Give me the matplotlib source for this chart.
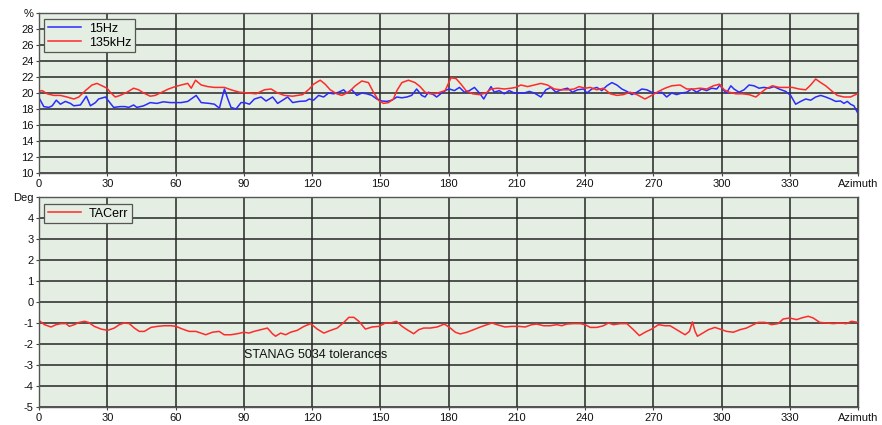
import matplotlib
matplotlib.use("Agg")
import matplotlib.pyplot as plt

plt.rcParams['font.family'] = ['Liberation Sans', 'DejaVu Sans']

# ---- Top panel data: amplitude (%) vs azimuth ----
az_15hz = [0.3, 2.1, 4.3, 5.8, 7.6, 9.4, 11.6, 13.8, 15.3, 18.2,
           20.8, 22.6, 24.8, 26.2, 29.2, 30.6, 32.8, 35.7, 37.9, 39.4,
           41.6, 43.0, 46.0, 48.9, 51.8, 54.7, 57.7,
           62.5, 65.4, 69.1, 71.3, 74.9, 77.1, 79.3, 81.5, 83.0, 84.4,
           86.6, 88.8, 90.3, 92.5, 94.7, 97.6, 99.8, 102.7, 104.9, 107.1,
           109.3, 111.5, 114.4, 117.3, 118.8,
           120.7, 122.9, 125.1, 127.3, 129.5, 131.7, 133.9, 135.3, 137.5, 139.7,
           141.9, 144.1, 146.3, 148.5, 150.7, 152.9, 155.1, 157.3, 159.5, 161.7,
           163.8, 166.0, 168.2, 169.7, 171.2, 173.3, 174.8, 177.0, 179.2,
           180.4, 182.6, 184.8, 187.0, 189.2, 191.4, 193.6, 195.5, 197.2, 198.7,
           200.1, 202.3, 204.5, 206.7, 208.9, 211.1, 213.3, 215.5, 217.7, 220.6,
           222.8, 225.0, 227.2, 229.4, 232.3, 234.5, 236.7,
           239.4, 240.8, 243.0, 245.2, 247.4, 249.6, 251.8, 254.0, 256.2, 258.4,
           260.6, 262.8, 265.0, 267.2, 269.3, 271.5, 273.7, 275.9, 278.1, 280.3,
           282.5, 284.7, 286.9, 289.1, 291.3, 293.5, 295.7, 297.9,
           299.3, 300.7, 302.2, 304.1, 305.5, 307.7, 309.9, 312.1, 314.3, 316.5,
           318.7, 320.9, 323.1, 325.3, 328.2, 330.4, 332.6, 334.8, 337.0, 339.2,
           341.4, 343.6, 345.8, 348.0, 350.2, 352.3, 353.8, 355.3, 356.7, 358.2,
           359.7]
val_15hz = [19.25, 18.3, 18.2, 18.4, 19.1, 18.6, 18.95, 18.7, 18.4, 18.5,
            19.6, 18.4, 18.8, 19.25, 19.5, 19.0, 18.2, 18.3, 18.3, 18.2,
            18.5, 18.2, 18.4, 18.8, 18.7, 18.9, 18.8,
            18.8, 18.95, 19.7, 18.8, 18.7, 18.6, 18.1, 20.5, 19.25, 18.2,
            18.0, 18.8, 18.8, 18.6, 19.25, 19.5, 19.0, 19.5, 18.7, 19.1,
            19.5, 18.8, 18.95, 19.0, 19.25,
            19.1, 19.7, 19.5, 20.0, 19.9, 20.1, 20.4, 20.0, 20.4, 19.7,
            20.0, 19.9, 19.7, 19.25, 19.0, 18.95, 19.1, 19.5, 19.4, 19.5,
            19.7, 20.5, 19.7, 19.5, 20.1, 19.8, 19.5, 20.0, 20.4,
            20.5, 20.3, 20.7, 20.1, 20.3, 20.7, 20.0, 19.25, 20.1, 20.8,
            20.1, 20.3, 19.9, 20.3, 20.0, 20.0, 20.0, 20.2, 20.0, 19.5,
            20.4, 20.7, 20.1, 20.4, 20.6, 20.1, 20.4,
            20.5, 20.0, 20.5, 20.7, 20.3, 20.9, 21.3, 21.0, 20.5, 20.2,
            19.8, 20.1, 20.5, 20.4, 20.1, 20.0, 20.1, 19.5, 20.0, 19.8,
            20.0, 20.1, 20.5, 20.1, 20.5, 20.3, 20.6, 20.5,
            21.0, 20.4, 20.0, 20.9, 20.5, 20.1, 20.4, 21.0, 20.9, 20.6,
            20.7, 20.6, 20.8, 20.5, 20.2, 19.7, 18.6, 18.95, 19.25, 19.1,
            19.5, 19.7, 19.5, 19.25, 18.95, 19.0, 18.7, 18.95, 18.6, 18.4,
            17.6]

az_135khz = [0.0, 1.4, 3.6, 6.5, 9.4, 12.3, 15.3, 17.5, 20.4, 23.3,
             25.5, 27.7, 29.9, 31.3, 33.5, 35.7, 38.7, 41.6, 43.8, 46.0,
             48.9, 51.1, 54.0, 56.9, 59.9,
             62.5, 65.4, 66.9, 68.8, 71.3, 74.2, 77.1, 81.5, 84.4, 88.1,
             91.8, 95.4, 99.1, 102.0, 104.9, 107.8, 111.5, 115.9, 118.8,
             120.7, 123.6, 125.8, 128.0, 130.9, 133.1, 136.1, 139.0, 141.9, 144.8,
             147.0, 149.2, 151.4, 153.6, 155.8, 157.3, 159.5, 162.4, 165.3, 167.5,
             169.7, 171.9, 174.1, 176.3, 178.5,
             181.1, 183.3, 185.5, 187.7, 190.6, 193.6, 196.5, 198.7, 201.6, 204.5,
             207.5, 209.6, 211.8, 214.8, 217.7, 220.6, 223.5, 226.5, 229.4, 232.3,
             235.2, 237.4,
             240.1, 242.3, 245.2, 248.1, 251.1, 254.0, 256.9, 259.8, 262.8, 266.4,
             269.3, 272.3, 275.2, 278.1, 281.8, 284.7, 287.6, 290.6, 293.5, 296.4,
             299.1, 301.2, 303.4, 306.3, 309.2, 312.1, 315.1, 317.2, 319.4, 322.4,
             325.3, 328.2, 331.1, 334.1, 337.0, 339.2, 341.4, 343.6, 345.8, 348.7,
             350.9, 353.8, 356.7, 359.7]
val_135khz = [20.2, 20.3, 19.9, 19.7, 19.7, 19.5, 19.25, 19.5, 20.3, 21.0,
              21.2, 20.9, 20.6, 20.1, 19.5, 19.7, 20.1, 20.6, 20.4, 20.0,
              19.6, 19.7, 20.1, 20.5, 20.8,
              21.0, 21.2, 20.6, 21.6, 21.0, 20.8, 20.7, 20.7, 20.4, 20.1,
              20.0, 19.9, 20.4, 20.5, 20.0, 19.7, 19.6, 19.8, 20.5,
              21.1, 21.6, 21.1, 20.4, 19.9, 19.7, 20.1, 20.9, 21.5, 21.3,
              20.1, 19.1, 18.7, 18.8, 19.25, 20.3, 21.3, 21.6, 21.3, 20.8,
              20.1, 19.9, 19.9, 20.1, 20.3,
              21.9, 21.8, 21.1, 20.3, 19.9, 19.8, 20.0, 20.5, 20.6, 20.5,
              20.6, 20.7, 21.0, 20.8, 21.0, 21.2, 21.0, 20.5, 20.4, 20.4,
              20.5, 20.8,
              20.6, 20.7, 20.4, 20.6, 19.9, 19.7, 19.8, 20.1, 19.8, 19.25,
              19.7, 20.2, 20.6, 20.9, 21.0, 20.5, 20.5, 20.6, 20.5, 20.9,
              21.1, 20.4, 20.1, 19.9, 19.9, 19.8, 19.5, 20.0, 20.5, 20.9,
              20.7, 20.7, 20.7, 20.5, 20.4, 21.0, 21.75, 21.3, 20.9, 20.2,
              19.7, 19.5, 19.5, 19.9]

# ---- Bottom panel data: TAC error (deg) vs azimuth ----
az_tac = [0.5, 2.4, 5.3, 7.5, 9.7, 11.9, 13.3, 15.5, 17.7, 20.0,
          21.7, 24.3, 27.3, 30.2, 33.1, 35.3, 37.5, 39.7, 41.9, 44.1,
          46.3, 49.2, 52.1, 55.0, 58.0, 60.2, 63.1, 66.0, 69.0, 71.1,
          73.3, 76.2, 79.2, 81.4, 84.3, 87.2, 90.1, 92.3, 94.5, 97.5,
          100.4, 102.6, 104.0, 106.2, 108.4, 110.6,
          113.5, 116.5, 119.4, 122.3, 125.2, 128.2, 131.1, 134.0, 136.2, 138.4,
          140.6, 143.5, 146.4, 149.4, 152.3, 154.5, 157.1, 159.6, 161.8, 164.7,
          166.9, 169.1, 172.0, 175.0, 178.2, 180.8, 183.0, 185.2, 188.1, 191.0,
          194.0, 196.9, 199.1, 201.3, 204.9, 207.9, 210.8, 213.7, 216.6, 218.8,
          221.8, 224.7, 227.6, 229.8, 232.0, 234.9, 237.9,
          240.1, 242.3, 245.2, 248.1, 250.3, 252.5, 255.5, 258.4, 261.3, 263.9,
          266.4, 269.3, 272.3, 275.2, 277.4, 280.3, 284.0, 285.9, 287.2, 288.4,
          289.4, 291.3, 294.2, 297.1, 299.3, 302.3, 305.2, 308.1, 311.0, 314.0,
          316.2, 319.1, 322.0, 324.9, 327.1, 330.0, 333.0, 335.2, 338.1, 340.3,
          343.2, 346.1, 349.1, 352.0, 354.9, 357.1, 360.0]
val_tac = [-0.92, -1.08, -1.19, -1.08, -1.03, -1.03, -1.16, -1.08, -0.97, -0.92,
           -0.97, -1.16, -1.29, -1.35, -1.24, -1.08, -1.0, -1.03, -1.24, -1.40,
           -1.40, -1.21, -1.16, -1.13, -1.13, -1.16, -1.29, -1.40, -1.40, -1.48,
           -1.56, -1.44, -1.40, -1.56, -1.56, -1.51, -1.44, -1.48, -1.40, -1.32,
           -1.24, -1.51, -1.63, -1.48, -1.56, -1.44,
           -1.35, -1.16, -1.03, -1.29, -1.48, -1.35, -1.24, -0.97, -0.73, -0.73,
           -0.92, -1.29, -1.19, -1.16, -1.0, -1.0, -0.92, -1.16, -1.32, -1.51,
           -1.32, -1.24, -1.24, -1.19, -1.05, -1.24, -1.44, -1.52, -1.44, -1.32,
           -1.19, -1.08, -1.0, -1.08, -1.19, -1.16, -1.16, -1.19, -1.08, -1.05,
           -1.13, -1.13, -1.08, -1.13, -1.05, -1.03, -1.03,
           -1.08, -1.21, -1.21, -1.13, -1.0, -1.08, -1.03, -1.03, -1.32, -1.60,
           -1.44, -1.29, -1.08, -1.13, -1.13, -1.32, -1.56, -1.40, -0.95, -1.40,
           -1.63, -1.51, -1.32, -1.21, -1.29, -1.40, -1.44, -1.32, -1.24, -1.08,
           -0.97, -0.97, -1.08, -1.03, -0.81, -0.76, -0.84, -0.76, -0.68, -0.76,
           -0.97, -1.0, -1.03, -1.0, -1.03, -0.92, -0.97]

# ---- Axis ticks ----
x_ticks = [0, 30, 60, 90, 120, 150, 180, 210, 240, 270, 300, 330, 360]
x_labels = ['0', '30', '60', '90', '120', '150', '180', '210', '240', '270',
            '300', '330', 'Azimuth']
top_yticks = [10, 12, 14, 16, 18, 20, 22, 24, 26, 28, 30]
top_ylabels = ['10', '12', '14', '16', '18', '20', '22', '24', '26', '28', '%']
bot_yticks = [-5, -4, -3, -2, -1, 0, 1, 2, 3, 4, 5]
bot_ylabels = ['-5', '-4', '-3', '-2', '-1', '0', '1', '2', '3', '4', 'Deg']

BG = '#E4EEE2'
GRID = '#262626'
FS = 8.0
LFS = 9.0

fig = plt.figure(figsize=(8.82, 4.25), dpi=100)
W, H = 882, 425
ax1 = fig.add_axes([39 / W, 1 - 173 / H, (858 - 39) / W, (173 - 13) / H])
ax2 = fig.add_axes([39 / W, 1 - 407 / H, (858 - 39) / W, (407 - 197) / H])

for ax, yt, yl in ((ax1, top_yticks, top_ylabels), (ax2, bot_yticks, bot_ylabels)):
    ax.set_facecolor(BG)
    ax.set_xlim(0, 360)
    ax.set_ylim(yt[0], yt[-1])
    ax.set_xticks(x_ticks)
    ax.set_xticklabels(x_labels)
    ax.set_yticks(yt)
    ax.set_yticklabels(yl)
    ax.tick_params(axis='both', labelsize=FS, length=2, width=0.8,
                   color='#444444', labelcolor='#111111', pad=2)
    ax.grid(True, color=GRID, linewidth=1.1)
    ax.set_axisbelow(True)
    for s in ax.spines.values():
        s.set_color('#555555')
        s.set_linewidth(1.0)

ax1.plot(az_15hz, val_15hz, color='#2b2bff', linewidth=1.1, label='15Hz')
ax1.plot(az_135khz, val_135khz, color='#ff2b2b', linewidth=1.1, label='135kHz')
leg1 = ax1.legend(loc='upper left', bbox_to_anchor=(0.006, 0.963), borderaxespad=0,
                  fontsize=LFS, fancybox=False, framealpha=1, facecolor=BG,
                  edgecolor='#555555', handlelength=2.7, handletextpad=0.6,
                  borderpad=0.3, labelspacing=0.15)
leg1.get_frame().set_linewidth(0.9)

ax2.plot(az_tac, val_tac, color='#ff2b2b', linewidth=1.1, label='TACerr')
leg2 = ax2.legend(loc='upper left', bbox_to_anchor=(0.006, 0.967), borderaxespad=0,
                  fontsize=LFS, fancybox=False, framealpha=1, facecolor=BG,
                  edgecolor='#555555', handlelength=2.7, handletextpad=0.6,
                  borderpad=0.3, labelspacing=0.15)
leg2.get_frame().set_linewidth(0.9)

ax2.text(90, -2.52, 'STANAG 5034 tolerances', fontsize=9, color='#111111',
         ha='left', va='center')

fig.savefig('out.png', dpi=100, facecolor='white')
